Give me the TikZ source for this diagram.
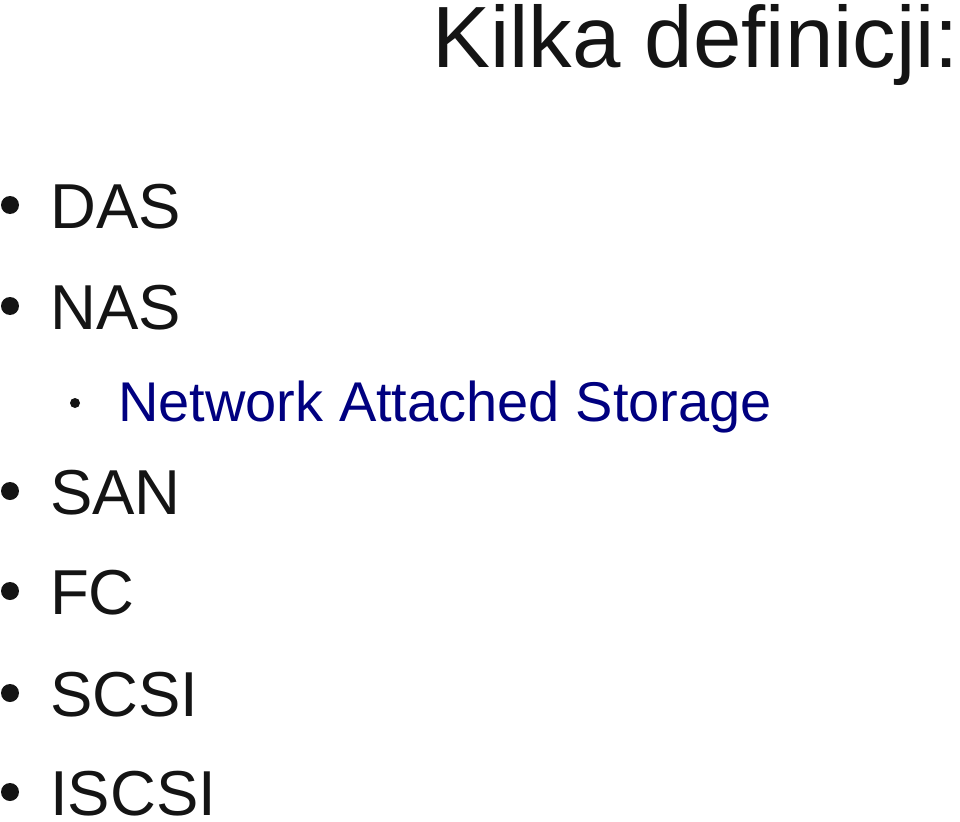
\documentclass[tikz,border=0pt]{standalone}
\usepackage{fontspec}
\setmainfont{Liberation Sans}
\definecolor{navy}{RGB}{0,0,128}
\definecolor{ink}{RGB}{20,20,20}
\begin{document}
\begin{tikzpicture}[x=1pt,y=-1pt,
  item/.style={anchor=base west,inner sep=0pt,font=\fontsize{63.5}{70}\selectfont,text=ink},
  sub/.style={anchor=base west,inner sep=0pt,font=\fontsize{56}{60}\selectfont,text=navy},
  dot/.style={fill=ink}]
\useasboundingbox (0,0) rectangle (960,821);
\node[anchor=base west,inner sep=0pt,font=\fontsize{87}{90}\selectfont,text=ink] (title) at (432,68) {Kilka definicji:};
\node[item] (das) at (50,228) {DAS};
\node[item] (nas) at (50,329) {NAS};
\node[sub] (net) at (118,421) {Network Attached Storage};
\node[item] (san) at (50,514) {SAN};
\node[item] (fc) at (50,614) {FC};
\node[item] (scsi) at (50,716) {SCSI};
\node[item] (iscsi) at (50,815) {ISCSI};
\foreach \y in {205,306,491,591,693,792} \fill[dot] (10,\y) circle (9);
\fill[ink] (75,403) circle (5);
\end{tikzpicture}
\end{document}
